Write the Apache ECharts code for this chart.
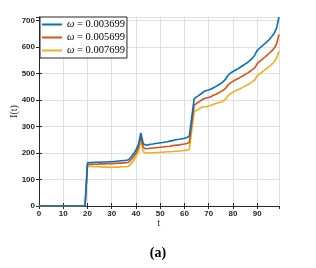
<!DOCTYPE html>
<html><head><meta charset="utf-8">
<script src="https://cdn.jsdelivr.net/npm/echarts@6/dist/echarts.min.js"></script>
<style>html,body{margin:0;padding:0;background:#fff;}#c{width:316px;height:268px;}</style>
</head><body><div id="c"></div>
<script>
var seriesNames = ['ω = 0.003699', 'ω = 0.005699', 'ω = 0.007699'];
var xTicks = [0, 10, 20, 30, 40, 50, 60, 70, 80, 90];
var yTicks = [0, 100, 200, 300, 400, 500, 600, 700];
var t = [];
for (var i = 0; i < 100; i++) t.push(i);
var zeros20 = [0,0,0,0,0,0,0,0,0,0,0,0,0,0,0,0,0,0,0,0];
var blue = zeros20.concat([
163,164,164,165,165,165,166,166,166,167,
167,168,169,170,171,172,173,175,185,197,
212,232,276,235,230,231,233,234,236,237,
239,240,242,243,245,247,249,251,252,254,
256,259,264,335,405,412,418,425,432,436,
438,442,447,452,457,463,470,480,494,502,
508,513,518,524,530,536,542,550,558,570,
588,596,604,612,620,629,640,652,672,714]);
var red = zeros20.concat([
157,157,158,158,158,159,159,159,160,160,
160,161,161,162,162,163,164,165,175,186,
199,220,262,222,216,217,218,219,220,221,
222,223,224,225,226,228,229,230,231,233,
234,236,240,310,380,388,393,400,405,408,
410,414,418,422,427,432,437,445,458,465,
471,476,481,486,491,497,502,508,515,522,
538,546,553,561,569,577,586,596,612,648]);
var yellow = zeros20.concat([
150,149,149,148,148,148,147,147,147,147,
146,147,147,147,148,148,148,150,160,172,
187,205,247,205,200,200,201,201,202,202,
203,203,204,205,205,206,207,207,208,209,
210,211,214,285,356,362,367,372,375,376,
378,381,384,387,390,393,397,403,418,424,
430,435,439,443,448,453,458,463,469,476,
492,499,506,513,520,527,535,545,558,585]);
var colors = ['#0072BD', '#D95319', '#EDB120'];
var values = [blue, red, yellow];

function pairs(v){ return t.map(function(x, k){ return [x, v[k]]; }); }

var chart = echarts.init(document.getElementById('c'), null, {renderer:'canvas'});
var labelFont = {fontSize: 8, color: '#262626', fontFamily: 'Liberation Sans, Arial, sans-serif', fontWeight: 'bold'};
var axisLineStyle = {lineStyle: {color: '#262626', width: 1}};
var gridLine = {show: true, lineStyle: {color: '#dfdfdf', width: 1}};
chart.setOption({
  animation: false,
  backgroundColor: '#fff',
  grid: {left: 39, right: 37, top: 17, bottom: 62, containLabel: false, outerBoundsMode: 'none'},
  legend: {
    orient: 'vertical', left: 40, top: 17,
    data: seriesNames,
    icon: 'rect', itemWidth: 20, itemHeight: 2, itemGap: 2,
    padding: [2, 2, 2, 2],
    backgroundColor: '#fff', borderColor: '#262626', borderWidth: 1,
    formatter: function(n){ return '{i|ω}' + n.slice(1); },
    textStyle: {fontSize: 10.5, fontFamily: 'Liberation Serif, serif', color: '#000', lineHeight: 11,
      rich: {i: {fontStyle: 'italic', fontSize: 10.5, lineHeight: 11, fontFamily: 'Liberation Serif, serif'}}}
  },
  xAxis: [{
    type: 'value', min: 0, max: 99, interval: 10,
    name: 't', nameLocation: 'middle', nameGap: 12, nameMoveOverlap: false,
    nameTextStyle: {fontSize: 10, fontFamily: 'Liberation Serif, serif', color: '#262626'},
    axisLine: axisLineStyle, axisTick: {inside: true, length: 3, lineStyle: {color: '#262626'}},
    axisLabel: Object.assign({margin: 4, showMaxLabel: false, formatter: function(v){ return xTicks.indexOf(v) >= 0 ? String(v) : ''; }}, labelFont),
    splitLine: gridLine
  }, {
    type: 'value', min: 0, max: 99, interval: 10, position: 'top',
    axisLine: axisLineStyle, axisTick: {inside: true, length: 3, lineStyle: {color: '#262626'}},
    axisLabel: {show: false}, splitLine: {show: false}
  }],
  yAxis: [{
    type: 'value', min: 0, max: 714, interval: 100,
    name: 'I(t)', nameLocation: 'middle', nameGap: 20, nameRotate: 90, nameMoveOverlap: false,
    nameTextStyle: {fontSize: 10, fontFamily: 'Liberation Serif, serif', color: '#262626'},
    axisLine: axisLineStyle, axisTick: {inside: true, length: 3, lineStyle: {color: '#262626'}},
    axisLabel: Object.assign({margin: 4, showMaxLabel: false, formatter: function(v){ return yTicks.indexOf(v) >= 0 ? String(v) : ''; }}, labelFont),
    splitLine: gridLine
  }, {
    type: 'value', min: 0, max: 714, interval: 100, position: 'right',
    axisLine: axisLineStyle, axisTick: {inside: true, length: 3, lineStyle: {color: '#262626'}},
    axisLabel: {show: false}, splitLine: {show: false}
  }],
  graphic: [{
    type: 'text', left: 'center', top: 246,
    style: {text: '(a)', fontSize: 14, fontWeight: 'bold', fontFamily: 'Liberation Serif, serif', fill: '#000'}
  }],
  series: values.map(function(v, k){
    return {
      name: seriesNames[k], type: 'line', data: pairs(v), showSymbol: false, symbol: 'none',
      lineStyle: {color: colors[k], width: 1.6}, itemStyle: {color: colors[k]}, z: 10 - k
    };
  })
});
</script></body></html>
